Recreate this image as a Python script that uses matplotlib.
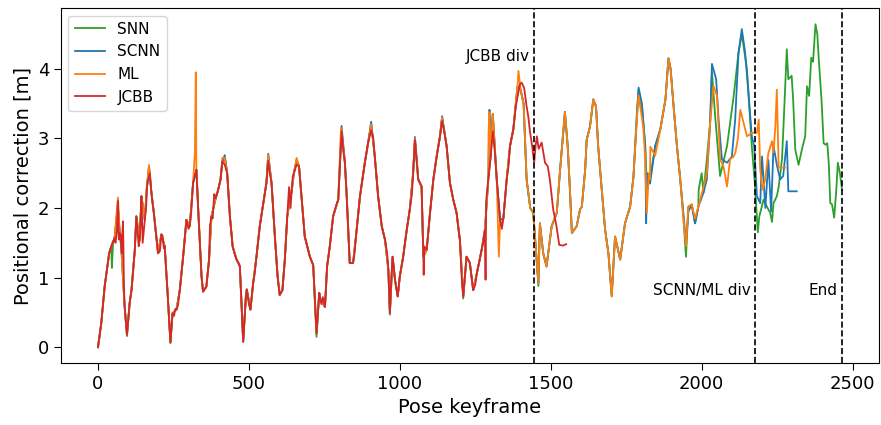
import matplotlib
matplotlib.use("Agg")
import matplotlib.pyplot as plt

# shared trajectory before the JCBB divergence (all four methods agree closely here)
pre_x = [0, 11, 22, 37, 44, 55, 66, 72, 77, 88, 96, 105, 111, 122, 127, 138, 144, 155, 162, 169,
         177, 185, 199, 210, 221, 230, 240, 247, 260, 271, 282, 293, 304, 315, 326, 332, 343, 348,
         359, 368, 376, 390, 398, 406, 412, 420, 428, 437, 446, 459, 470, 475, 481, 490, 493, 505,
         514, 525, 536, 547, 558, 564, 575, 586, 595, 602, 611, 619, 627, 636, 641, 649, 658, 666,
         674, 685, 702, 713, 724, 733, 737, 752, 759, 768, 779, 796, 807, 818, 824, 834, 845, 857,
         868, 884, 895, 905, 917, 928, 940, 951, 962, 967, 976, 984, 993, 1000, 1011, 1023, 1033,
         1044, 1050, 1061, 1072, 1078, 1089, 1100, 1111, 1122, 1133, 1140, 1155, 1166, 1177, 1188,
         1199, 1210, 1221, 1232, 1243, 1255, 1271, 1282, 1293, 1301, 1308, 1321, 1332, 1343, 1354,
         1365, 1376]
pre_y = [0.0, 0.35, 0.87, 1.35, 1.45, 1.57, 2.10, 1.64, 1.45, 0.60, 0.18, 0.64, 0.82, 1.40, 1.88,
         1.54, 2.17, 1.83, 2.30, 2.58, 2.22, 1.93, 1.35, 1.62, 1.45, 0.82, 0.07, 0.49, 0.54, 0.82,
         1.30, 1.83, 1.74, 2.36, 2.55, 1.98, 1.02, 0.80, 0.87, 1.26, 1.88, 2.14, 2.26, 2.41, 2.67,
         2.72, 2.50, 1.88, 1.45, 1.26, 1.16, 0.68, 0.08, 0.73, 0.83, 0.54, 0.92, 1.30, 1.74, 2.05,
         2.36, 2.74, 2.36, 1.59, 1.02, 0.75, 0.82, 1.26, 1.88, 2.12, 2.22, 2.50, 2.69, 2.60, 2.17,
         1.59, 1.30, 1.18, 0.20, 0.78, 0.68, 0.58, 1.16, 1.45, 1.88, 2.12, 3.10, 2.65, 2.17, 1.21,
         1.21, 1.69, 2.17, 2.65, 2.94, 3.20, 2.74, 2.17, 1.74, 1.54, 1.11, 0.49, 1.30, 0.97, 0.73,
         1.02, 1.30, 1.69, 1.98, 2.50, 2.98, 2.41, 2.31, 1.30, 1.40, 1.93, 2.41, 2.74, 3.03, 3.30,
         2.89, 2.36, 2.12, 1.93, 1.54, 0.73, 1.30, 1.21, 0.82, 1.06, 1.40, 1.69, 2.41, 2.74, 3.35,
         2.41, 1.83, 1.85, 2.41, 2.89, 3.13]

# shared by SNN / SCNN / ML until ~2030
mid_x = [1390, 1400, 1410, 1420, 1432, 1442, 1454, 1459, 1464, 1475, 1486, 1503, 1520, 1530, 1542,
         1547, 1556, 1564, 1570, 1586, 1597, 1603, 1614, 1619, 1630, 1641, 1650, 1657, 1669, 1680,
         1691, 1702, 1713, 1730, 1746, 1763, 1774, 1785, 1791, 1802, 1813, 1829, 1846, 1863, 1880,
         1890, 1897, 1907, 1918, 1929, 1940, 1948, 1956, 1967, 1978, 1989, 2006, 2017, 2028]
mid_y = [3.75, 3.70, 3.50, 2.41, 2.00, 1.93, 1.21, 0.92, 1.78, 1.35, 1.16, 1.74, 1.93, 2.50, 3.13,
         3.38, 2.90, 2.22, 1.64, 1.74, 1.98, 2.02, 2.55, 2.98, 3.17, 3.56, 3.46, 2.89, 2.26, 1.69,
         1.35, 0.73, 1.59, 1.26, 1.78, 2.02, 2.45, 3.27, 3.70, 3.46, 2.89, 2.41, 2.89, 3.13, 3.56,
         4.15, 4.00, 3.46, 2.89, 2.41, 1.83, 1.35, 2.02, 2.05, 1.78, 2.02, 2.22, 2.41, 3.22]

snn_tail_x = [2034, 2045, 2061, 2084, 2106, 2122, 2133, 2150, 2166, 2177, 2181, 2186, 2191, 2205,
              2216, 2227, 2233, 2238, 2249, 2255, 2266, 2271, 2282, 2287, 2298, 2303, 2310, 2321,
              2332, 2343, 2349, 2356, 2363, 2369, 2377, 2383, 2388, 2397, 2404, 2410, 2416, 2421,
              2426, 2432, 2439, 2446, 2451, 2458, 2465]
snn_tail_y = [3.95, 3.30, 2.46, 2.89, 3.61, 4.23, 4.50, 3.99, 2.89, 2.31, 2.00, 1.65, 1.88, 2.12,
              2.02, 1.93, 1.80, 2.07, 2.17, 2.30, 2.70, 3.17, 4.28, 3.85, 3.90, 3.56, 2.84, 2.62,
              2.84, 3.03, 3.75, 3.61, 4.16, 4.10, 4.64, 4.50, 4.13, 3.56, 2.93, 2.91, 2.93, 2.65,
              2.07, 2.05, 1.86, 2.26, 2.65, 2.50, 2.26]

scnn_tail_x = [2034, 2048, 2056, 2067, 2084, 2100, 2111, 2122, 2133, 2144, 2155, 2166, 2174, 2183,
               2194, 2200, 2211, 2221, 2230, 2238, 2250, 2260, 2270, 2282, 2287, 2315]
scnn_tail_y = [4.07, 3.85, 3.27, 2.70, 2.65, 2.74, 3.27, 4.23, 4.57, 4.23, 3.65, 3.03, 2.89, 2.17,
               2.07, 2.74, 2.00, 2.69, 1.95, 2.89, 2.60, 2.41, 2.46, 2.96, 2.24, 2.24]

ml_tail_x = [2039, 2051, 2061, 2072, 2084, 2094, 2106, 2112, 2120, 2128, 2139, 2150, 2166, 2183,
             2189, 2194, 2202, 2210, 2221, 2233, 2238, 2244, 2249, 2255, 2277]
ml_tail_y = [3.75, 3.61, 2.70, 2.60, 2.31, 2.70, 2.74, 2.80, 3.00, 3.41, 3.22, 3.03, 3.08, 3.08,
             3.27, 2.55, 2.26, 2.40, 2.79, 2.96, 2.80, 3.17, 3.70, 2.58, 2.58]

jcbb_tail_x = [1384, 1390, 1398, 1404, 1412, 1420, 1426, 1431, 1438, 1445, 1450, 1454, 1460, 1470,
               1481, 1490, 1497, 1508, 1519, 1528, 1540, 1551]
jcbb_tail_y = [3.45, 3.60, 3.78, 3.80, 3.72, 3.46, 3.30, 3.10, 2.90, 2.65, 2.90, 3.03, 2.85, 2.94,
               2.65, 2.60, 2.41, 1.98, 1.74, 1.47, 1.46, 1.48]

# per-method deviations from the shared path (replace or add points)
snn_dev_x = [46, 50, 66, 96, 240, 724, 967, 1210, 1459, 1548, 1702, 1800, 1818, 1948, 1990, 2000, 2017]
snn_dev_y = [1.14, 1.50, 2.02, 0.16, 0.06, 0.15, 0.47, 0.70, 0.88, 3.30, 0.75, 3.40, 2.36, 1.30,
             2.26, 2.50, 2.70]
scnn_dev_x = [66, 169, 420, 564, 807, 905, 1050, 1140, 1297, 1301, 1785, 1791, 1802, 1816, 1820,
              1829, 1940, 1948, 1956]
scnn_dev_y = [2.05, 2.60, 2.76, 2.78, 3.18, 3.24, 3.02, 3.32, 3.41, 3.00, 3.35, 3.73, 3.50, 1.78,
              2.50, 2.35, 1.90, 1.50, 1.95]
ml_dev_x = [66, 169, 321, 324, 328, 412, 564, 658, 805, 1050, 1294, 1297, 1328, 1335, 1386, 1393,
            1791, 1802, 1807, 1813, 1818, 1825, 1830, 1846, 1948, 1978, 2006, 2017]
ml_dev_y = [2.15, 2.62, 2.80, 3.95, 2.40, 2.72, 2.76, 2.72, 3.15, 3.00, 3.10, 3.38, 1.30, 1.75,
            3.60, 3.97, 3.62, 3.30, 3.13, 2.70, 1.93, 2.50, 2.88, 2.75, 1.45, 1.85, 2.30, 2.50]
jcbb_dev_x = [58, 63, 69, 74, 79, 80, 83, 86, 135, 141, 148, 160, 166, 169, 172, 180, 205, 214, 218,
              252, 256, 265, 300, 309, 363, 371, 380, 385, 420, 452, 465, 500, 519, 564, 569, 628,
              633, 638, 645, 658, 740, 745, 790, 812, 850, 905, 912, 958, 972, 988, 1040, 1079, 1081,
              1140, 1147, 1194, 1205, 1238, 1250, 1262, 1276, 1284, 1286, 1308, 1315, 1338, 1348, 1360]
jcbb_dev_y = [1.50, 1.68, 1.55, 1.62, 1.35, 1.60, 1.81, 0.90, 1.45, 1.78, 1.50, 2.05, 2.40, 2.45,
              2.50, 2.10, 1.38, 1.60, 1.42, 0.45, 0.55, 0.60, 1.70, 1.95, 1.05, 1.75, 1.85, 2.20,
              2.62, 1.35, 1.22, 0.62, 1.05, 2.68, 2.50, 1.95, 2.30, 2.00, 2.45, 2.62, 0.62, 0.72,
              2.05, 2.85, 1.35, 3.12, 3.00, 1.35, 1.00, 0.85, 2.20, 1.04, 1.45, 3.25, 3.10, 1.70,
              1.00, 1.00, 0.90, 1.20, 1.50, 0.97, 2.10, 3.10, 2.80, 1.70, 2.10, 2.60]

div_lines = [1445, 2176, 2465]
div_labels = ['JCBB div', 'SCNN/ML div', 'End']
div_label_y = [4.18, 0.82, 0.82]


def with_points(xs, ys, px, py):
    d = dict(zip(xs, ys))
    d.update(zip(px, py))
    keys = sorted(d)
    return keys, [d[k] for k in keys]


snn_x, snn_y = with_points(pre_x + mid_x + snn_tail_x, pre_y + mid_y + snn_tail_y, snn_dev_x, snn_dev_y)
scnn_x, scnn_y = with_points(pre_x + mid_x + scnn_tail_x, pre_y + mid_y + scnn_tail_y, scnn_dev_x, scnn_dev_y)
ml_x, ml_y = with_points(pre_x + mid_x + ml_tail_x, pre_y + mid_y + ml_tail_y, ml_dev_x, ml_dev_y)
jcbb_x, jcbb_y = with_points(pre_x + jcbb_tail_x, pre_y + jcbb_tail_y, jcbb_dev_x, jcbb_dev_y)

fig, ax = plt.subplots(figsize=(8.81, 4.25), dpi=100)
fig.subplots_adjust(left=0.069, right=0.998, top=0.981, bottom=0.145)

lw = 1.3
ax.plot(snn_x, snn_y, color='#2ca02c', linewidth=lw, label='SNN')
ax.plot(scnn_x, scnn_y, color='#1f77b4', linewidth=lw, label='SCNN')
ax.plot(ml_x, ml_y, color='#ff7f0e', linewidth=lw, label='ML')
ax.plot(jcbb_x, jcbb_y, color='#d62728', linewidth=lw, label='JCBB')

for xv, lab, ty in zip(div_lines, div_labels, div_label_y):
    ax.axvline(xv, color='k', linestyle='--', linewidth=1.2)
    ax.text(xv - 15, ty, lab, ha='right', va='center', fontsize=11)

ax.set_xlabel('Pose keyframe', fontsize=14)
ax.set_ylabel('Positional correction [m]', fontsize=14)
ax.tick_params(labelsize=13, length=4.8)
ax.legend(loc='upper left', fontsize=11)

fig.savefig('out.png', dpi=100)
